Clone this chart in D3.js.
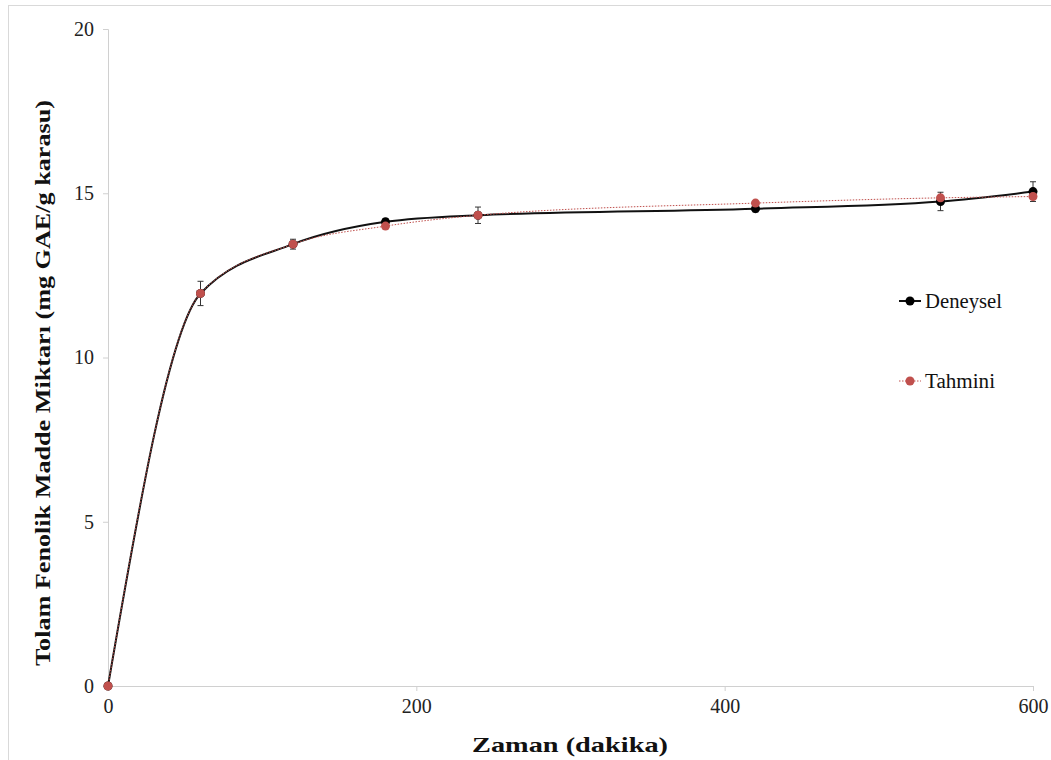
<!DOCTYPE html>
<html><head><meta charset="utf-8">
<script src="https://cdn.jsdelivr.net/npm/d3@7"></script>
<style>body{margin:0;background:#fff}svg{display:block}
text{font-family:"Times New Roman","Liberation Serif",Tinos,serif}</style>
</head><body>
<script>
const times = [0, 60, 120, 180, 240, 420, 540, 600];
const deneysel = [0, 11.95, 13.45, 14.13, 14.33, 14.53, 14.75, 15.05];
const deneyselErr = [0, 0.37, 0.15, 0.1, 0.25, 0.1, 0.28, 0.3];
const tahmini = [0, 11.95, 13.45, 14.0, 14.33, 14.7, 14.86, 14.9];
const xTicks = [0, 200, 400, 600];
const yTicks = [0, 5, 10, 15, 20];
const seriesNames = ["Deneysel", "Tahmini"];

const W = 1051, H = 760;
const svg = d3.select("body").append("svg").attr("width", W).attr("height", H);
svg.append("rect").attr("x", 8.5).attr("y", 5.5).attr("width", W + 10).attr("height", H + 10)
  .attr("fill", "none").attr("stroke", "#d9d9d9");

const x = d3.scaleLinear().domain([0, 600]).range([108, 1033]);
const y = d3.scaleLinear().domain([0, 20]).range([686, 29]);

const xAxis = svg.append("g").attr("transform", `translate(0,${y(0)})`)
  .call(d3.axisBottom(x).tickValues(xTicks).tickSize(5).tickPadding(8).tickFormat(d3.format("d")));
const yAxis = svg.append("g").attr("transform", `translate(${x(0)},0)`)
  .call(d3.axisLeft(y).tickValues(yTicks).tickSize(5).tickPadding(9).tickFormat(d3.format("d")));
[xAxis, yAxis].forEach(a => {
  a.attr("font-family", null).attr("font-size", null);
  a.select(".domain").attr("stroke", "#d0d0d0");
  a.selectAll(".tick line").attr("stroke", "#d0d0d0");
  a.selectAll(".tick text").style("font-size", "20px").attr("fill", "#222");
});

svg.append("text").attr("x", 570).attr("y", 752).attr("text-anchor", "middle")
  .style("font-weight", "bold").style("font-size", "21px").attr("fill", "#111")
  .attr("textLength", 196).attr("lengthAdjust", "spacingAndGlyphs")
  .text("Zaman (dakika)");
svg.append("text").attr("transform", `translate(50,383) rotate(-90)`).attr("text-anchor", "middle")
  .style("font-weight", "bold").style("font-size", "20px").attr("fill", "#111")
  .attr("textLength", 566).attr("lengthAdjust", "spacingAndGlyphs")
  .text("Tolam Fenolik Madde Miktarı (mg GAE/g karasu)");

const curve = d3.curveMonotoneX;
const dData = times.map((t, i) => ({t, v: deneysel[i], e: deneyselErr[i]}));
const tData = times.map((t, i) => ({t, v: tahmini[i]}));
const line = d3.line().x(d => x(d.t)).y(d => y(d.v)).curve(curve);

// error bars
const eb = svg.append("g").attr("stroke", "#333").attr("stroke-width", 1);
dData.filter(d => d.e > 0).forEach(d => {
  eb.append("line").attr("x1", x(d.t)).attr("x2", x(d.t)).attr("y1", y(d.v - d.e)).attr("y2", y(d.v + d.e));
  [d.v - d.e, d.v + d.e].forEach(v => eb.append("line").attr("x1", x(d.t) - 3).attr("x2", x(d.t) + 3).attr("y1", y(v)).attr("y2", y(v)));
});

svg.append("path").datum(dData).attr("d", line).attr("fill", "none").attr("stroke", "#111").attr("stroke-width", 2);
svg.append("path").datum(tData).attr("d", line).attr("fill", "none").attr("stroke", "#c0504d")
  .attr("stroke-width", 1).attr("stroke-dasharray", "1.5,1.5");

svg.append("g").selectAll("circle").data(dData).join("circle")
  .attr("cx", d => x(d.t)).attr("cy", d => y(d.v)).attr("r", 4.5).attr("fill", "#000");
svg.append("g").selectAll("circle").data(tData).join("circle")
  .attr("cx", d => x(d.t)).attr("cy", d => y(d.v)).attr("r", 4.5).attr("fill", "#c0504d");

// legend
const leg = svg.append("g");
const legY = [301, 381];
const legW = [77, 70];
seriesNames.forEach((name, i) => {
  const g = leg.append("g").attr("transform", `translate(0,${legY[i]})`);
  g.append("line").attr("x1", 899).attr("x2", 921).attr("y1", 0).attr("y2", 0)
    .attr("stroke", i === 0 ? "#111" : "#c0504d").attr("stroke-width", i === 0 ? 2 : 1)
    .attr("stroke-dasharray", i === 0 ? null : "1.5,1.5");
  g.append("circle").attr("cx", 910).attr("cy", 0).attr("r", 4.5).attr("fill", i === 0 ? "#000" : "#c0504d");
  g.append("text").attr("x", 925).attr("y", 7).style("font-size", "20px").attr("fill", "#111")
    .attr("textLength", legW[i]).attr("lengthAdjust", "spacingAndGlyphs").text(name);
});
</script>
</body></html>
